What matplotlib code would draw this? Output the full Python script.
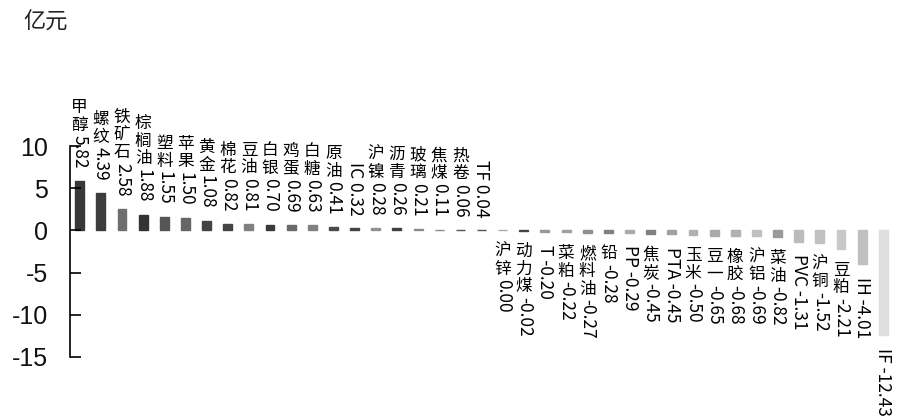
import matplotlib
matplotlib.use('Agg')
import matplotlib.pyplot as plt

plt.rcParams['font.family'] = ['Noto Sans CJK SC', 'DejaVu Sans']

categories = ['甲醇', '螺纹', '铁矿石', '棕榈油', '塑料', '苹果', '黄金', '棉花', '豆油', '白银',
              '鸡蛋', '白糖', '原油', 'IC', '沪镍', '沥青', '玻璃', '焦煤', '热卷', 'TF',
              '沪锌', '动力煤', 'T', '菜粕', '燃料油', '铅', 'PP', '焦炭', 'PTA', '玉米',
              '豆一', '橡胶', '沪铝', '菜油', 'PVC', '沪铜', '豆粕', 'IH', 'IF']
values = [5.82, 4.39, 2.58, 1.88, 1.55, 1.50, 1.08, 0.82, 0.81, 0.70,
          0.69, 0.63, 0.41, 0.32, 0.28, 0.26, 0.21, 0.11, 0.06, 0.04,
          0.00, -0.02, -0.20, -0.22, -0.27, -0.28, -0.29, -0.45, -0.45, -0.50,
          -0.65, -0.68, -0.69, -0.82, -1.31, -1.52, -2.21, -4.01, -12.43]
colors = ['#383838', '#3c3c3c', '#6e6e6e', '#333333', '#555555', '#666666', '#444444', '#444444', '#808080', '#3a3a3a',
          '#6a6a6a', '#808080', '#4a4a4a', '#444444', '#909090', '#404040', '#8a8a8a', '#8a8a8a', '#555555', '#555555',
          '#aaaaaa', '#444444', '#999999', '#a0a0a0', '#909090', '#808080', '#aaaaaa', '#808080', '#a0a0a0', '#b0b0b0',
          '#aaaaaa', '#b0b0b0', '#c0c0c0', '#999999', '#bbbbbb', '#c0c0c0', '#c8c8c8', '#c0c0c0', '#dedede']
yticks = [-15, -10, -5, 0, 5, 10]
unit_label = '亿元'

fig = plt.figure(figsize=(9, 4.2), dpi=100)
ax = fig.add_axes([0.078, 0.15, 0.914, 0.502])
x = list(range(len(categories)))
ax.bar(x, values, width=0.42, color=colors, edgecolor=colors, linewidth=1.0)
ax.set_xlim(-0.45, len(categories) - 0.55)
ax.set_ylim(-15, 10)
ax.set_yticks(yticks)
ax.set_yticklabels([str(t) for t in yticks], fontsize=18, family=['Liberation Sans'], color='#111111')
ax.tick_params(axis='y', direction='in', length=8, width=1.2, pad=16)
ax.set_xticks([])
for s in ['top', 'right', 'bottom']:
    ax.spines[s].set_visible(False)
ax.spines['left'].set_linewidth(1.2)

fig.text(0.026, 0.975, unit_label, fontsize=16, va='top', ha='left', color='#222222')


def is_cjk(ch):
    return '\u4e00' <= ch <= '\u9fff'

gap = 9
fs_num = 12.5
fs_cjk = 12
renderer = fig.canvas.get_renderer()
for xi, cat, v in zip(x, categories, values):
    num = f'{v:.2f}'
    has_cjk = any(is_cjk(c) for c in cat)
    latin = num if has_cjk else f'{cat} {num}'
    cjk = '\n'.join(cat) if has_cjk else ''
    if v > 0:
        t = ax.annotate(latin, xy=(xi, v), xytext=(0, gap), textcoords='offset points',
                        rotation=270, ha='center', va='bottom', fontsize=fs_num, color='#000000')
        if cjk:
            h = t.get_window_extent(renderer).height * 72 / fig.dpi
            ax.annotate(cjk, xy=(xi, v), xytext=(0, gap + h + 1), textcoords='offset points',
                        ha='center', va='bottom', fontsize=fs_cjk, linespacing=1.05, color='#000000')
    else:
        off = gap
        if cjk:
            c = ax.annotate(cjk, xy=(xi, v), xytext=(0, -gap), textcoords='offset points',
                            ha='center', va='top', fontsize=fs_cjk, linespacing=1.05, color='#000000')
            off = gap + c.get_window_extent(renderer).height * 72 / fig.dpi + 1
        ax.annotate(latin, xy=(xi, v), xytext=(0, -off), textcoords='offset points',
                    rotation=270, ha='center', va='top', fontsize=fs_num, color='#000000')

fig.savefig('out.png', dpi=100)
